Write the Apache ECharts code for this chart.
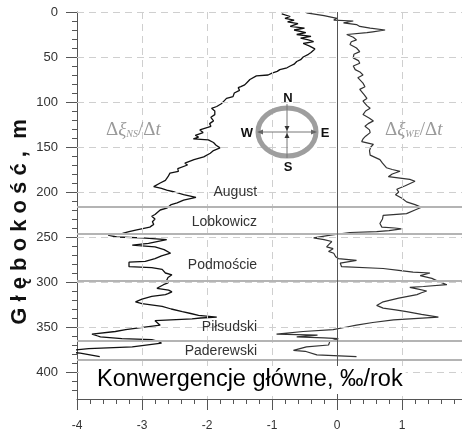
<!DOCTYPE html>
<html><head><meta charset="utf-8">
<script src="https://cdn.jsdelivr.net/npm/echarts@6/dist/echarts.min.js"></script>
<style>html,body{margin:0;padding:0;background:#fff}#c{width:462px;height:432px}</style>
</head><body><div id="c"></div>
<script>
// ---- data ----
const nsDepth = [2,5,7,9,11,13,16,18,20,23,25,27,29,31,33,35,38,41,43,45,47,50,53,55,58,60,62,64,66,68,70,71,73,75,78,81,83,84,87,90,94,96,99,102,105,107,110,114,117,121,124,127,131,134,137,139,141,142,145,148,151,154,157,161,164,168,170,174,177,179,183,187,190,194,196,198,200,203,206,209,212,214,218,220,222,225,227,230,233,236,239,242,244,246,248,250,251,253,255,257,259,261,264,268,271,274,277,278,283,284,286,290,292,295,298,301,303,307,309,311,313,314,316,319,322,324,327,330,333,335,337,339,340,341,343,345,348,351,353,355,358,360,361,363,364,366,368,370,372,374,376,377,379,381,383];
const nsValue = [-0.85,-0.72,-0.80,-0.66,-0.76,-0.60,-0.72,-0.50,-0.66,-0.48,-0.62,-0.40,-0.56,-0.44,-0.36,-0.52,-0.42,-0.34,-0.32,-0.40,-0.44,-0.52,-0.56,-0.62,-0.66,-0.72,-0.77,-0.88,-0.92,-1.00,-1.06,-1.24,-1.22,-1.34,-1.38,-1.42,-1.48,-1.52,-1.50,-1.58,-1.60,-1.70,-1.74,-1.78,-1.85,-1.93,-1.88,-1.88,-1.94,-1.90,-1.96,-1.94,-2.11,-2.06,-2.18,-2.13,-2.21,-1.98,-1.90,-1.86,-1.80,-1.90,-1.95,-2.05,-2.20,-2.34,-2.30,-2.45,-2.44,-2.57,-2.60,-2.64,-2.72,-2.82,-2.70,-2.62,-2.50,-2.36,-2.17,-2.36,-2.46,-2.55,-2.62,-2.72,-2.70,-2.80,-2.85,-2.80,-2.84,-2.82,-2.88,-3.08,-3.20,-3.30,-3.52,-3.39,-3.00,-2.62,-2.60,-2.90,-3.15,-2.80,-2.66,-2.56,-2.70,-2.80,-2.95,-3.20,-3.20,-2.85,-2.69,-2.64,-2.54,-2.60,-2.62,-2.60,-2.67,-2.77,-2.59,-2.54,-2.60,-2.64,-2.85,-3.00,-3.10,-3.00,-2.69,-2.55,-2.38,-2.25,-2.13,-1.85,-2.10,-2.23,-2.80,-2.78,-2.72,-3.05,-3.25,-3.41,-3.77,-3.68,-3.64,-3.31,-2.85,-2.75,-2.70,-2.69,-3.15,-3.82,-4.10,-4.29,-3.95,-3.80,-3.65];
const weDepth = [1,4,7,9,10,12,14,16,18,20,22,23,25,28,31,33,36,40,44,47,51,54,57,60,64,67,70,73,75,79,83,86,88,92,96,99,101,104,107,110,114,118,121,124,127,131,134,138,141,144,147,150,154,159,164,168,173,175,177,180,183,186,188,190,193,197,200,203,207,211,214,217,220,224,226,230,235,239,240,241,243,244,245,248,251,253,255,258,261,263,266,268,270,272,274,276,277,279,283,285,287,289,290,293,296,299,303,305,306,308,310,312,314,318,322,326,329,331,333,336,339,342,345,348,350,353,355,358,359,361,362,363,366,370,372,376,377,381,383];
const weValue = [-0.47,-0.20,0.00,-0.05,0.25,0.10,0.30,0.35,0.51,0.74,0.55,0.46,0.15,0.25,0.30,0.22,0.20,0.30,0.35,0.26,0.25,0.33,0.35,0.25,0.28,0.36,0.40,0.32,0.30,0.40,0.43,0.35,0.33,0.42,0.46,0.40,0.38,0.46,0.51,0.44,0.40,0.50,0.56,0.48,0.43,0.50,0.51,0.44,0.40,0.38,0.56,0.52,0.50,0.51,0.66,0.70,0.76,0.85,0.97,0.85,0.79,1.12,1.20,1.23,1.05,0.92,0.95,0.90,1.00,1.07,1.20,1.30,1.20,1.07,0.71,0.70,0.66,0.69,0.89,0.99,0.80,0.61,0.20,-0.10,-0.36,-0.20,-0.08,-0.12,-0.16,-0.06,-0.13,-0.05,-0.08,-0.02,0.02,0.30,0.33,0.05,0.07,0.71,0.95,1.17,1.43,1.28,1.46,1.55,1.69,1.33,1.12,1.25,1.38,1.30,1.23,0.95,0.71,0.61,0.71,0.90,1.07,1.30,1.56,0.87,0.55,0.30,0.15,-0.06,-0.52,-0.93,-0.30,-0.62,-0.20,0.02,-0.11,-0.13,-0.47,-0.67,-0.49,-0.31,0.30];

const xMajorTicks = [-4,-3,-2,-1,0,1];
const xMinorTicks = [-3.8,-3.6,-3.4,-3.2,-2.8,-2.6,-2.4,-2.2,-1.8,-1.6,-1.4,-1.2,-0.8,-0.6,-0.4,-0.2,0.2,0.4,0.6,0.8,1.2,1.4,1.6,1.8];
const yMajorTicks = [0,50,100,150,200,250,300,350,400];
const yMinorTicks = [10,20,30,40,60,70,80,90,110,120,130,140,160,170,180,190,210,220,230,240,260,270,280,290,310,320,330,340,360,370,380,390,410,420];
const gridX = [-3,-2,-1,1];
const gridY = [0,50,100,150,200,250,300,350,400];
const layerDepth = [216,246.7,298.5,365.6,386.7];
const layerNames = ['August','Lobkowicz','Podmoście','Piłsudski','Paderewski'];
const layerLabelDepth = [200,233,281,350,377];

// ---- chart ----
const X_MIN = -4, X_MAX = 1.923, Y_MIN = 0, Y_MAX = 430;
const LABEL_X = -1.23;
const FONT = '"Liberation Sans", Arial, sans-serif';
const SERIF = '"Liberation Serif", "Times New Roman", serif';

const nsData = nsDepth.map((d, i) => [nsValue[i], d]);
const weData = weDepth.map((d, i) => [weValue[i], d]);

const chart = echarts.init(document.getElementById('c'), null, {renderer: 'canvas'});

function xAxisDef(major) {
  return {
    type: 'value', min: X_MIN, max: X_MAX, position: 'bottom', offset: 0,
    axisLine: {show: major, onZero: false, lineStyle: {color: '#555', width: 1}},
    axisTick: {show: true, length: major ? 11 : 5, customValues: major ? xMajorTicks : xMinorTicks, lineStyle: {color: '#555', width: 1}},
    axisLabel: major ? {show: true, customValues: xMajorTicks, margin: 21, fontSize: 12, color: '#333', fontFamily: FONT} : {show: false},
    splitLine: {show: false}
  };
}
function yAxisDef(major) {
  return {
    type: 'value', min: Y_MIN, max: Y_MAX, inverse: true, position: 'left', offset: 0,
    axisLine: {show: major, onZero: false, lineStyle: {color: '#555', width: 1}},
    axisTick: {show: true, length: major ? 11 : 5, customValues: major ? yMajorTicks : yMinorTicks, lineStyle: {color: '#555', width: 1}},
    axisLabel: major ? {show: true, customValues: yMajorTicks, margin: 19, fontSize: 13, color: '#333', fontFamily: FONT} : {show: false},
    splitLine: {show: false}
  };
}

chart.setOption({
  animation: false,
  backgroundColor: '#fff',
  grid: {left: 77, top: 12, width: 385, height: 388, containLabel: false},
  xAxis: [xAxisDef(true), xAxisDef(false)],
  yAxis: [yAxisDef(true), yAxisDef(false)],
  series: [
    {
      type: 'line', name: 'grid', data: [], silent: true, z: 1,
      markLine: {
        silent: true, symbol: ['none', 'none'], label: {show: false}, animation: false,
        lineStyle: {type: [7, 5], color: '#cfcfcf', width: 1},
        data: gridX.map(v => ({xAxis: v})).concat(gridY.map(v => ({yAxis: v})))
      }
    },
    {
      type: 'line', name: 'NS', data: nsData, showSymbol: false, symbol: 'none', clip: false, z: 3,
      lineStyle: {color: '#111', width: 1.3}
    },
    {
      type: 'line', name: 'WE', data: weData, showSymbol: false, symbol: 'none', clip: false, z: 3,
      lineStyle: {color: '#333', width: 1.2}
    },
    {
      type: 'line', name: 'layers', data: [], silent: true, z: 4,
      markLine: {
        silent: true, symbol: ['none', 'none'], label: {show: false}, animation: false,
        lineStyle: {type: 'solid', color: '#b4b4b4', width: 2},
        data: layerDepth.map(v => ({yAxis: v}))
      },
      markPoint: {
        silent: true, animation: false,
        data: layerNames.map((n, i) => ({
          name: n, coord: [LABEL_X, layerLabelDepth[i]], symbol: 'circle', symbolSize: 0,
          label: {show: true, position: 'left', distance: 0, formatter: '{b}', fontSize: 14, color: '#333', fontFamily: FONT}
        }))
      }
    },
    {
      type: 'line', name: 'zero', data: [], silent: true, z: 5,
      markLine: {
        silent: true, symbol: ['none', 'none'], label: {show: false}, animation: false,
        lineStyle: {type: 'solid', color: '#555', width: 1},
        data: [{xAxis: 0}]
      }
    }
  ],
  graphic: [
    {type: 'text', x: 20, y: 222, rotation: Math.PI / 2, z: 100,
     style: {text: 'G ł ę b o k o ś ć ,  m', font: 'bold 22px ' + FONT, fill: '#111', align: 'center', verticalAlign: 'middle'}},
    {type: 'text', x: 79, y: 380, z: 100,
     style: {text: 'Konwergencje główne, ‰/rok', font: '23.5px ' + FONT, fill: '#000', align: 'left', verticalAlign: 'middle',
             backgroundColor: '#fff', padding: [2, 3, 2, 18]}},
    {type: 'text', x: 106, y: 130, z: 100,
     style: {text: '{a|Δ}{b|ξ}{s|NS}{a|/Δ}{b|t}', align: 'left', verticalAlign: 'middle',
             rich: {a: {font: '19px ' + SERIF, fill: '#9a9a9a'}, b: {font: 'italic 19px ' + SERIF, fill: '#9a9a9a'},
                    s: {font: 'italic 10px ' + SERIF, fill: '#9a9a9a', verticalAlign: 'bottom'}}}},
    {type: 'text', x: 385, y: 130, z: 100,
     style: {text: '{a|Δ}{b|ξ}{s|WE}{a|/Δ}{b|t}', align: 'left', verticalAlign: 'middle',
             rich: {a: {font: '19px ' + SERIF, fill: '#9a9a9a'}, b: {font: 'italic 19px ' + SERIF, fill: '#9a9a9a'},
                    s: {font: 'italic 10px ' + SERIF, fill: '#9a9a9a', verticalAlign: 'bottom'}}}},
    // compass
    {type: 'ellipse', z: 90, shape: {cx: 287, cy: 132, rx: 29, ry: 24}, style: {fill: 'none', stroke: '#9e9e9e', lineWidth: 5}},
    {type: 'line', z: 91, shape: {x1: 259, y1: 132, x2: 315, y2: 132}, style: {stroke: '#777', lineWidth: 1}},
    {type: 'line', z: 91, shape: {x1: 287, y1: 104, x2: 287, y2: 158}, style: {stroke: '#777', lineWidth: 1}},
    {type: 'polygon', z: 92, shape: {points: [[257, 132], [263, 129.5], [263, 134.5]]}, style: {fill: '#666'}},
    {type: 'polygon', z: 92, shape: {points: [[317, 132], [311, 129.5], [311, 134.5]]}, style: {fill: '#666'}},
    {type: 'polygon', z: 92, shape: {points: [[287, 131], [284.5, 126], [289.5, 126]]}, style: {fill: '#333'}},
    {type: 'polygon', z: 92, shape: {points: [[287, 133], [284.5, 138], [289.5, 138]]}, style: {fill: '#333'}},
    {type: 'text', x: 288, y: 98, z: 93, style: {text: 'N', font: 'bold 13px ' + FONT, fill: '#111', align: 'center', verticalAlign: 'middle'}},
    {type: 'text', x: 288, y: 167, z: 93, style: {text: 'S', font: 'bold 13px ' + FONT, fill: '#111', align: 'center', verticalAlign: 'middle'}},
    {type: 'text', x: 247, y: 133, z: 93, style: {text: 'W', font: 'bold 13px ' + FONT, fill: '#111', align: 'center', verticalAlign: 'middle'}},
    {type: 'text', x: 325, y: 133, z: 93, style: {text: 'E', font: 'bold 13px ' + FONT, fill: '#111', align: 'center', verticalAlign: 'middle'}}
  ]
});
</script>
</body></html>
